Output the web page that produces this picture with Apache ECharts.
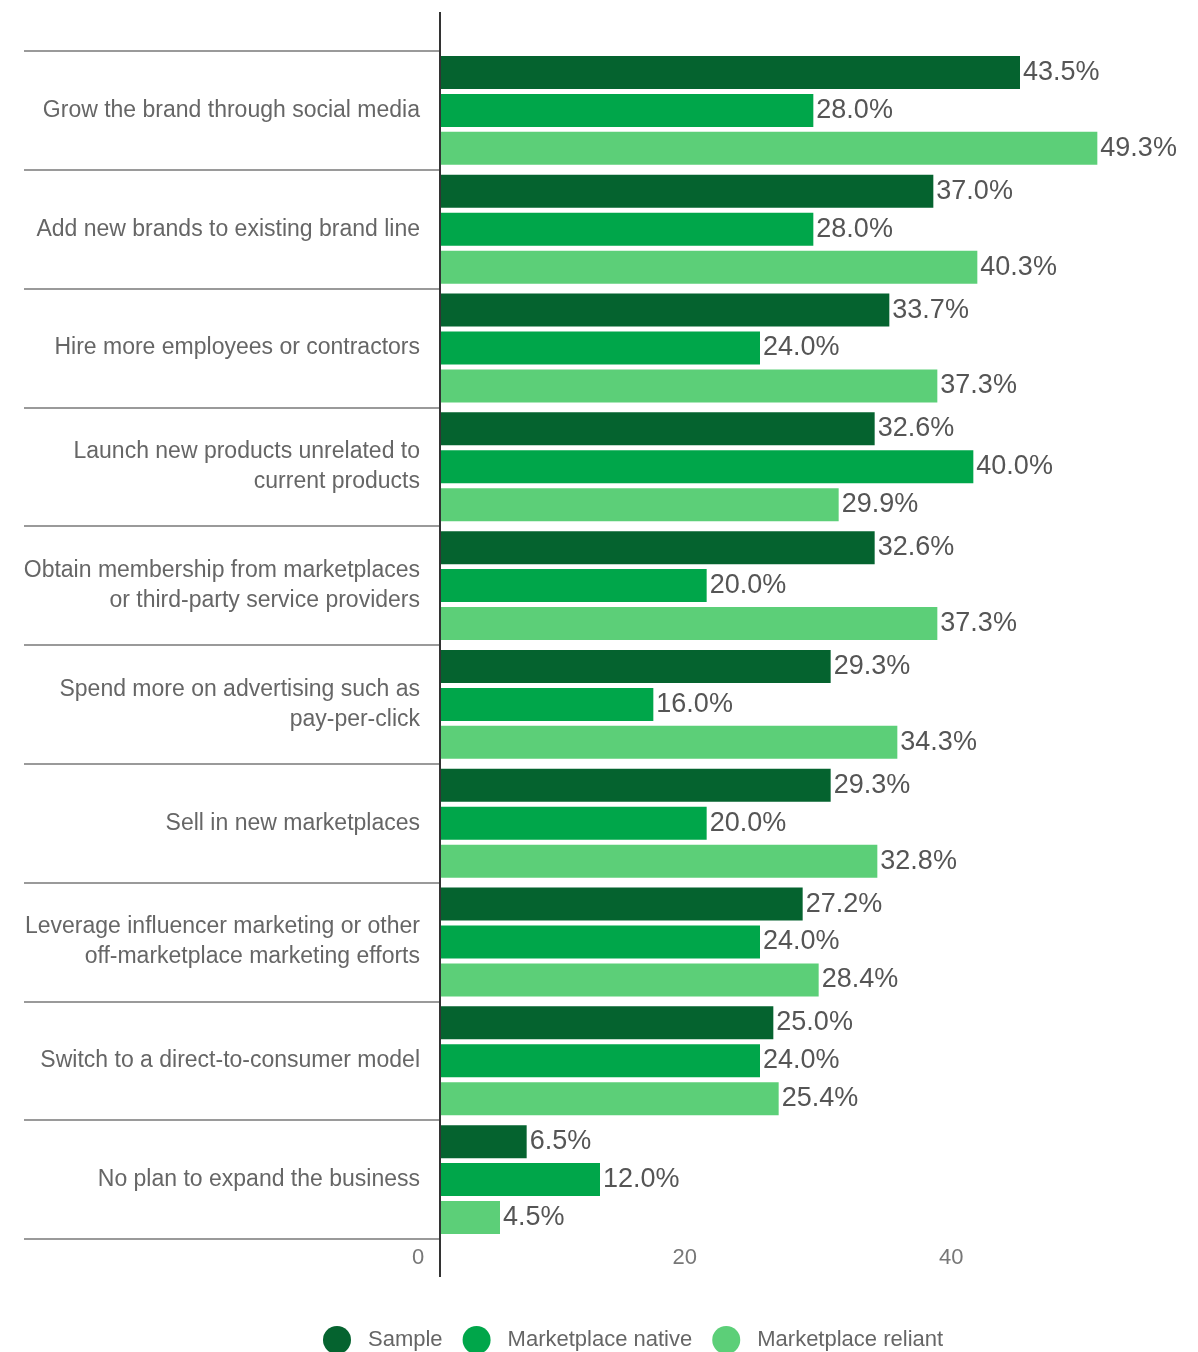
<!DOCTYPE html>
<html>
<head>
<meta charset="utf-8">
<script src="https://cdn.jsdelivr.net/npm/echarts@6/dist/echarts.min.js"></script>
<style>
  html, body { margin: 0; padding: 0; background: #ffffff; overflow: hidden; width: 1198px; height: 1352px; }
  #chart { width: 1240px; height: 1352px; }
</style>
</head>
<body>
<div id="chart"></div>
<script>
// Growth plans of sellers, share of respondents (%)
const categories = [
  'Grow the brand through social media',
  'Add new brands to existing brand line',
  'Hire more employees or contractors',
  'Launch new products unrelated to\ncurrent products',
  'Obtain membership from marketplaces\nor third-party service providers',
  'Spend more on advertising such as\npay-per-click',
  'Sell in new marketplaces',
  'Leverage influencer marketing or other\noff-marketplace marketing efforts',
  'Switch to a direct-to-consumer model',
  'No plan to expand the business'
];
const seriesNames = ['Sample', 'Marketplace native', 'Marketplace reliant'];
const sampleValues = [43.5, 37.0, 33.7, 32.6, 32.6, 29.3, 29.3, 27.2, 25.0, 6.5];
const nativeValues = [28.0, 28.0, 24.0, 40.0, 20.0, 16.0, 20.0, 24.0, 24.0, 12.0];
const reliantValues = [49.3, 40.3, 37.3, 29.9, 37.3, 34.3, 32.8, 28.4, 25.4, 4.5];
const xTicks = [0, 20, 40, 60];

const colors = ['#05632f', '#00a64a', '#5ccf78'];
const FONT = '"Liberation Sans", Arial, sans-serif';

const chart = echarts.init(document.getElementById('chart'), null, { renderer: 'canvas' });

function barSeries(name, values, color) {
  return {
    name: name,
    type: 'bar',
    data: values,
    barWidth: 33,
    barGap: '15%',
    itemStyle: { color: color },
    label: {
      show: true,
      position: 'right',
      distance: 3,
      color: '#555555',
      fontFamily: FONT,
      fontSize: 27,
      formatter: p => p.value.toFixed(1) + '%'
    },
    emphasis: { disabled: true },
    animation: false
  };
}

chart.setOption({
  backgroundColor: '#ffffff',
  animation: false,
  color: colors,
  legend: {
    data: seriesNames,
    left: 318,
    top: 1321,
    icon: 'circle',
    itemWidth: 30,
    itemHeight: 28,
    itemGap: 20,
    textStyle: {
      color: '#666666',
      fontFamily: FONT,
      fontSize: 22,
      padding: [0, 0, 0, 11]
    }
  },
  grid: {
    left: 440,
    top: 51,
    right: 0,
    bottom: 113,
    containLabel: false
  },
  xAxis: {
    type: 'value',
    min: xTicks[0],
    max: xTicks[xTicks.length - 1],
    interval: xTicks[1] - xTicks[0],
    axisLine: { show: false },
    axisTick: { show: false },
    splitLine: { show: false },
    axisLabel: {
      color: '#777777',
      fontFamily: FONT,
      fontSize: 22,
      margin: 8,
      padding: [0, 44, 0, 0]
    }
  },
  yAxis: {
    type: 'category',
    data: categories,
    inverse: true,
    axisLine: { show: false },
    axisTick: {
      show: true,
      length: 416,
      interval: 0,
      lineStyle: { color: '#9a9a9a', width: 2 }
    },
    axisLabel: {
      interval: 0,
      margin: 20,
      color: '#666666',
      fontFamily: FONT,
      fontSize: 23,
      lineHeight: 30,
      align: 'right'
    }
  },
  series: [
    barSeries(seriesNames[0], sampleValues, colors[0]),
    barSeries(seriesNames[1], nativeValues, colors[1]),
    barSeries(seriesNames[2], reliantValues, colors[2])
  ]
});

// Vertical baseline at zero, running a little past the plot area on both ends
const zeroX = chart.convertToPixel({ xAxisIndex: 0 }, 0);
chart.setOption({
  graphic: [{
    type: 'line',
    shape: { x1: zeroX, y1: 12, x2: zeroX, y2: 1277 },
    style: { stroke: '#333333', lineWidth: 2 },
    z: 10
  }]
});
</script>
</body>
</html>
